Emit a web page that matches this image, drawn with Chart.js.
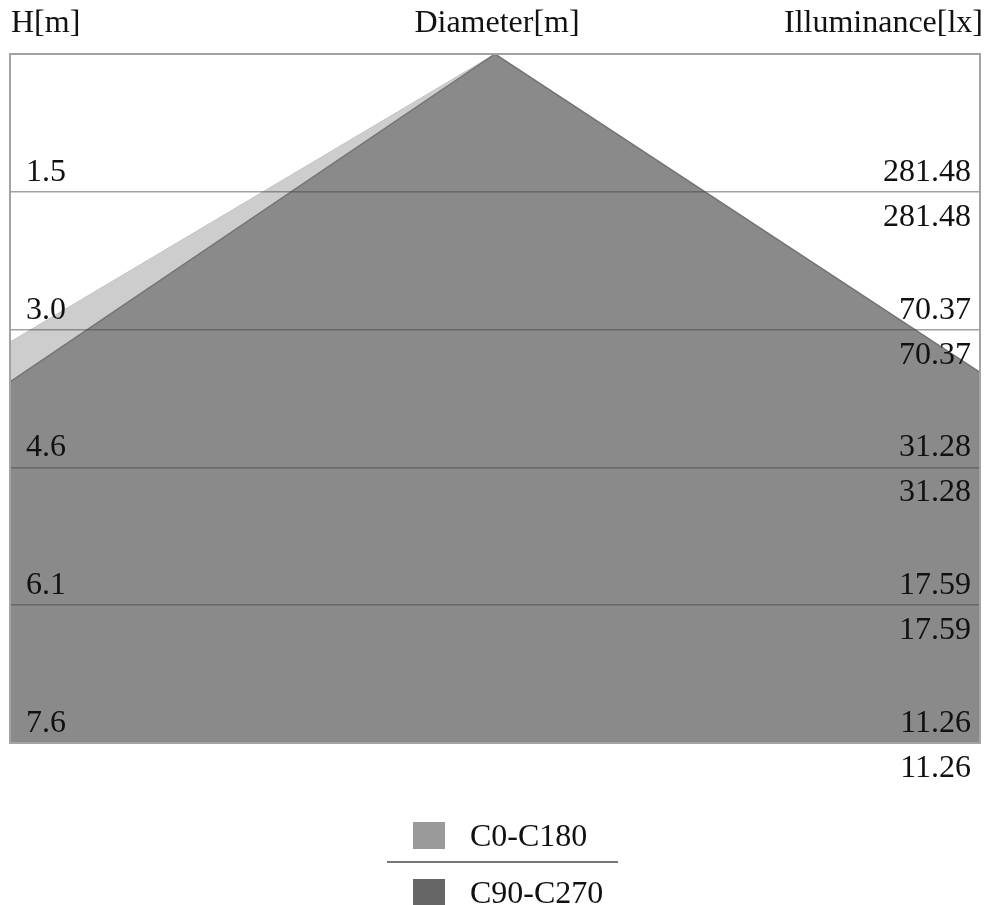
<!DOCTYPE html>
<html>
<head>
<meta charset="utf-8">
<script src="https://cdn.jsdelivr.net/npm/chart.js@4.4.1/dist/chart.umd.min.js"></script>
<style>
  body { margin: 0; background: #fff; }
  #wrap { width: 987px; height: 905px; position: relative; }
</style>
</head>
<body>
<div id="wrap"><canvas id="ConeChart"></canvas></div>
<script>
// rows of the cone diagram (mounting heights) and illuminance at each row
const heightLabels = ['1.5', '3.0', '4.6', '6.1', '7.6'];
const illumC0 = [281.48, 70.37, 31.28, 17.59, 11.26];
const illumC90 = [281.48, 70.37, 31.28, 17.59, 11.26];

// cone edges: x = diameter position [m], y = row (0 = luminaire)
const c0EdgeX = [-5.35, 0];
const c0EdgeY = [2.09, 0];
const c90EdgeX = [-5.35, 0, 5.35];
const c90EdgeY = [2.38, 0, 2.31];

const seriesNames = ['C0-C180', 'C90-C270'];
const legendColors = ['#9a9a9a', '#666666'];

const xHalf = 5.35;
const FONT = '32px "Liberation Serif", "Times New Roman", serif';

const toPoints = (xs, ys) => xs.map((x, i) => ({x: x, y: ys[i]}));

const labelsPlugin = {
    id: 'coneLabels',
    afterDraw(chart) {
        const c = chart.ctx;
        const a = chart.chartArea;
        const y = chart.scales.y;

        c.save();
        // frame
        c.strokeStyle = '#a3a3a3';
        c.lineWidth = 2;
        c.strokeRect(a.left, a.top, a.right - a.left, a.bottom - a.top);

        c.fillStyle = '#111';
        c.font = FONT;
        c.textBaseline = 'alphabetic';

        // header
        c.textAlign = 'left';
        c.fillText('H[m]', 11, 32);
        c.textAlign = 'center';
        c.fillText('Diameter[m]', 497, 32);
        c.textAlign = 'right';
        c.fillText('Illuminance[lx]', 983, 32);

        heightLabels.forEach((h, i) => {
            const py = y.getPixelForValue(i + 1);
            c.textAlign = 'left';
            c.fillText(h, a.left + 16, py - 11);
            c.textAlign = 'right';
            c.fillText(illumC0[i].toFixed(2), a.right - 9, py - 11);
            c.fillText(illumC90[i].toFixed(2), a.right - 9, py + 34);
        });

        // legend
        const lx = 413, ly = [822, 879];
        seriesNames.forEach((n, i) => {
            c.fillStyle = legendColors[i];
            c.fillRect(lx, ly[i], 32, 27);
            c.fillStyle = '#111';
            c.textAlign = 'left';
            c.fillText(n, lx + 57, ly[i] + 24);
        });
        c.strokeStyle = '#777';
        c.lineWidth = 2;
        c.beginPath();
        c.moveTo(387, 862);
        c.lineTo(618, 862);
        c.stroke();
        c.restore();
    }
};

const ctx = document.getElementById('ConeChart').getContext('2d');

const data = {
    datasets: [
        {
            label: seriesNames[0],
            data: toPoints(c0EdgeX, c0EdgeY),
            showLine: true,
            fill: 'start',
            backgroundColor: '#cdcdcd',
            borderColor: '#c4c4c4',
            borderWidth: 1,
            pointRadius: 0,
            order: 2
        },
        {
            label: seriesNames[1],
            data: toPoints(c90EdgeX, c90EdgeY),
            showLine: true,
            fill: 'start',
            backgroundColor: '#8a8a8a',
            borderColor: '#747474',
            borderWidth: 1.5,
            pointRadius: 0,
            order: 1
        }
    ]
};

const config = {
    type: 'scatter',
    data: data,
    options: {
        responsive: true,
        maintainAspectRatio: false,
        animation: false,
        layout: {
            padding: {left: 10, right: 7, top: 54, bottom: 162}
        },
        scales: {
            x: {
                display: false,
                min: -xHalf,
                max: xHalf
            },
            y: {
                reverse: true,
                min: 0,
                max: heightLabels.length,
                ticks: {display: false, stepSize: 1},
                border: {display: false},
                grid: {
                    z: 1,
                    drawTicks: false,
                    color: 'rgba(70, 70, 70, 0.5)',
                    lineWidth: 1.5
                },
                afterFit: s => { s.width = 0; }
            }
        },
        plugins: {
            legend: {display: false},
            tooltip: {enabled: false}
        }
    },
    plugins: [labelsPlugin]
};

const cone = new Chart(ctx, config);
</script>
</body>
</html>
